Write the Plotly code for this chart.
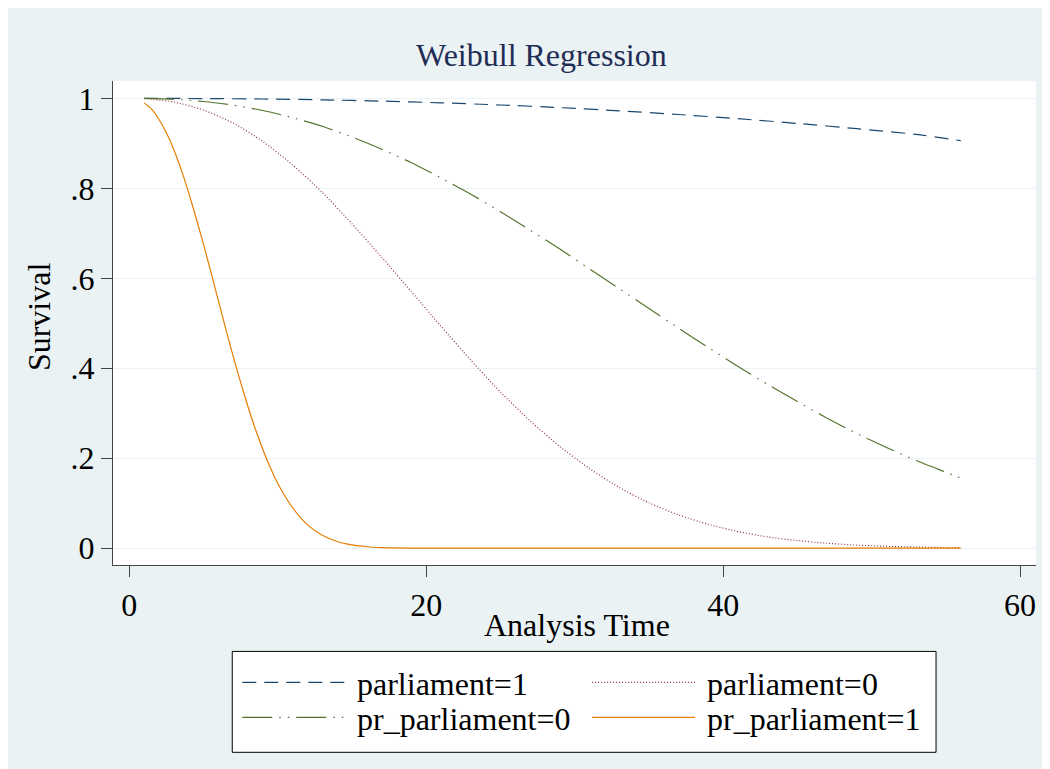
import plotly.graph_objects as go

# ---------------- data ----------------
t_pr1 = [1, 1.5, 2, 2.5, 3, 3.5, 4, 4.5, 5, 5.5, 6, 6.5, 7, 7.5, 8, 8.5, 9, 9.5,
         10, 11, 12, 13, 14, 15, 16, 17, 18, 19, 20, 56]
s_pr1 = [0.990, 0.976, 0.953, 0.923, 0.886, 0.841, 0.790, 0.734, 0.675, 0.613,
         0.550, 0.487, 0.426, 0.368, 0.314, 0.264, 0.219, 0.179, 0.144, 0.090,
         0.052, 0.029, 0.015, 0.0073, 0.0033, 0.0014, 0.0006, 0.0002, 0.0001, 0.0]

t_mid = [1, 3, 5, 7, 9, 11, 13, 15, 17, 19, 21, 23, 25, 27, 29, 31, 33, 35, 37,
         39, 41, 43, 45, 47, 49, 51, 53, 55, 56]
s_parl0 = [0.9994, 0.992, 0.974, 0.945, 0.904, 0.852, 0.791, 0.721, 0.647, 0.570,
           0.493, 0.418, 0.347, 0.283, 0.226, 0.177, 0.135, 0.101, 0.074, 0.053,
           0.037, 0.025, 0.017, 0.011, 0.0069, 0.0043, 0.0026, 0.0015, 0.0012]
s_pr0 = [0.9998, 0.998, 0.993, 0.985, 0.973, 0.957, 0.938, 0.914, 0.887, 0.857,
         0.823, 0.787, 0.748, 0.707, 0.665, 0.621, 0.577, 0.533, 0.489, 0.446,
         0.404, 0.364, 0.326, 0.289, 0.255, 0.224, 0.195, 0.169, 0.156]

t_parl1 = [1, 5, 9, 13, 17, 21, 25, 29, 33, 37, 41, 45, 49, 53, 56]
s_parl1 = [1.0, 0.9996, 0.9986, 0.9967, 0.9939, 0.9901, 0.9853, 0.9794, 0.9723,
           0.9641, 0.9548, 0.9443, 0.9327, 0.9199, 0.9060]

y_tickvals = [0, 0.2, 0.4, 0.6, 0.8, 1]
y_ticktext = ["0", ".2", ".4", ".6", ".8", "1"]
x_tickvals = [0, 20, 40, 60]
x_ticktext = ["0", "20", "40", "60"]

labels = ["parliament=1", "parliament=0", "pr_parliament=0", "pr_parliament=1"]

# ---------------- styling ----------------
OFF = 8  # page body margin
W, H = 1042, 761
# plot area in page coordinates
PL, PR, PT, PB = 112.7, 1036.0, 81.0, 565.5
L, R, T, B = PL - OFF, PR - OFF, PT - OFF, PB - OFF
BG = "#eaf2f3"
FONT = "Liberation Serif, Times New Roman, serif"
C_BLUE, C_RED, C_GREEN, C_ORANGE = "#1a476f", "#90353b", "#55752f", "#e37e00"
D_BLUE = "14px,8px"
D_RED = "1px,2px"
D_GREEN = "30px,7px,1.5px,7px,1.5px,7px"
LW = 1.2


def px(x):
    return (x - PL) / (PR - PL)


def py(y):
    return (PB - y) / (PB - PT)


fig = go.Figure()
series = [
    (t_parl1, s_parl1, C_BLUE, D_BLUE, labels[0]),
    (t_mid, s_parl0, C_RED, D_RED, labels[1]),
    (t_mid, s_pr0, C_GREEN, D_GREEN, labels[2]),
    (t_pr1, s_pr1, C_ORANGE, "solid", labels[3]),
]
for xs, ys, col, dash, name in series:
    fig.add_trace(go.Scatter(
        x=xs, y=ys, mode="lines", name=name, showlegend=False,
        line=dict(color=col, width=LW, dash=dash, shape="spline", smoothing=0.6),
    ))

shapes = []
# legend box
shapes.append(dict(type="rect", xref="paper", yref="paper",
                   x0=px(232), x1=px(936), y0=py(753), y1=py(652),
                   fillcolor="white", line=dict(color="#000000", width=1)))
annotations = []
key_pos = [(242, 685), (592, 685), (242, 720), (592, 720)]
key_style = [(C_BLUE, D_BLUE), (C_RED, D_RED), (C_GREEN, D_GREEN), (C_ORANGE, "solid")]
for (kx, ky), (col, dash), lab in zip(key_pos, key_style, labels):
    shapes.append(dict(type="line", xref="paper", yref="paper",
                       x0=px(kx), x1=px(kx + 103), y0=py(ky - 2), y1=py(ky - 2),
                       line=dict(color=col, width=LW, dash=dash)))
    annotations.append(dict(xref="paper", yref="paper", x=px(kx + 113), y=py(ky),
                            text=lab, showarrow=False, xanchor="left", yanchor="middle",
                            font=dict(family=FONT, size=32, color="#000000")))

# title and axis titles
annotations.append(dict(xref="paper", yref="paper", x=px(541), y=py(55),
                        text="Weibull Regression", showarrow=False,
                        xanchor="center", yanchor="middle",
                        font=dict(family=FONT, size=32, color="#1f2d56")))
annotations.append(dict(xref="paper", yref="paper", x=px(577), y=py(626),
                        text="Analysis Time", showarrow=False,
                        xanchor="center", yanchor="middle",
                        font=dict(family=FONT, size=32, color="#000000")))
annotations.append(dict(xref="paper", yref="paper", x=px(38), y=py(317),
                        text="Survival", showarrow=False, textangle=-90,
                        xanchor="center", yanchor="middle",
                        font=dict(family=FONT, size=32, color="#000000")))

fig.update_layout(
    width=W, height=H,
    margin=dict(l=L, r=W - R, t=T, b=H - B, pad=0),
    paper_bgcolor=BG, plot_bgcolor="white",
    showlegend=False,
    shapes=shapes, annotations=annotations,
    font=dict(family=FONT, size=32, color="#000000"),
)
fig.update_xaxes(
    range=[-1.1, 61.07], tickvals=x_tickvals, ticktext=x_ticktext,
    showgrid=False, zeroline=False, showline=True, linecolor="#444444", linewidth=1.3,
    ticks="outside", ticklen=11, tickcolor="#444444", tickwidth=1.3,
    tickfont=dict(family=FONT, size=32, color="#000000"),
)
fig.update_yaxes(
    range=[-0.0373, 1.0386], tickvals=y_tickvals, ticktext=y_ticktext,
    showgrid=True, gridcolor=BG, gridwidth=1.2, zeroline=False,
    showline=True, linecolor="#444444", linewidth=1.3,
    ticks="outside", ticklen=11, tickcolor="#444444", tickwidth=1.3,
    tickfont=dict(family=FONT, size=32, color="#000000"),
)

fig.write_html("out.html")
